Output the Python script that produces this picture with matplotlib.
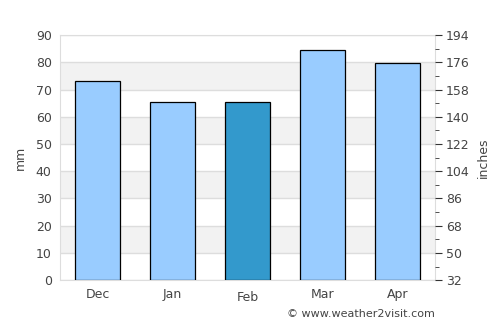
import matplotlib
matplotlib.use("Agg")
import matplotlib.pyplot as plt
import numpy as np

months = ["Dec", "Jan", "Feb", "Mar", "Apr"]
rain_mm = [73.0, 65.3, 65.6, 84.4, 79.6]
highlight = "Feb"
left_ticks = [0, 10, 20, 30, 40, 50, 60, 70, 80, 90]
right_labels = ["32", "50", "68", "86", "104", "122", "140", "158", "176", "194"]

light = "#99ccff"
dark = "#3399cc"
txt = "#444444"

fig = plt.figure(figsize=(5, 3.25), dpi=100)
ax = fig.add_axes([0.12, 0.138, 0.75, 0.754])
x = np.arange(len(months))
ax.set_xlim(-0.5, len(months) - 0.5)
ax.set_ylim(0, 90)

# alternating bands
for lo in range(10, 90, 20):
    ax.axhspan(lo, lo + 10, color="#f2f2f2", zorder=0, lw=0)
for t in left_ticks:
    ax.axhline(t, color="#dddddd", lw=1, zorder=1)

colors = [dark if m == highlight else light for m in months]
ax.bar(x, rain_mm, width=0.6, color=colors, edgecolor="black", linewidth=0.9, zorder=3)

for s in ax.spines.values():
    s.set_color("#dddddd")
ax.set_xticks(x)
ax.set_xticklabels(months, color=txt, fontsize=9)
for lbl, m in zip(ax.get_xticklabels(), months):
    if m == highlight:
        lbl.set_y(-0.012)
ax.set_yticks(left_ticks)
ax.set_yticklabels([str(t) for t in left_ticks], color=txt, fontsize=9)
ax.tick_params(axis="both", length=0, pad=6)
ax.set_ylabel("mm", color=txt, fontsize=9, labelpad=6)

ax2 = ax.twinx()
ax2.set_ylim(0, 90)
ax2.set_yticks(left_ticks)
ax2.set_yticklabels(right_labels, color=txt, fontsize=9)
ax2.set_yticks([t + 5 for t in left_ticks[:-1]], minor=True)
ax2.tick_params(axis="y", which="major", length=5, color="#333333", pad=3)
ax2.tick_params(axis="y", which="minor", length=3, color="#333333")
for s in ax2.spines.values():
    s.set_visible(False)
ax2.set_ylabel("inches", color=txt, fontsize=9, labelpad=5)

fig.text(0.87, 0.035, "© www.weather2visit.com", ha="right", va="center",
         color=txt, fontsize=8)

fig.savefig("out.png", dpi=100)
